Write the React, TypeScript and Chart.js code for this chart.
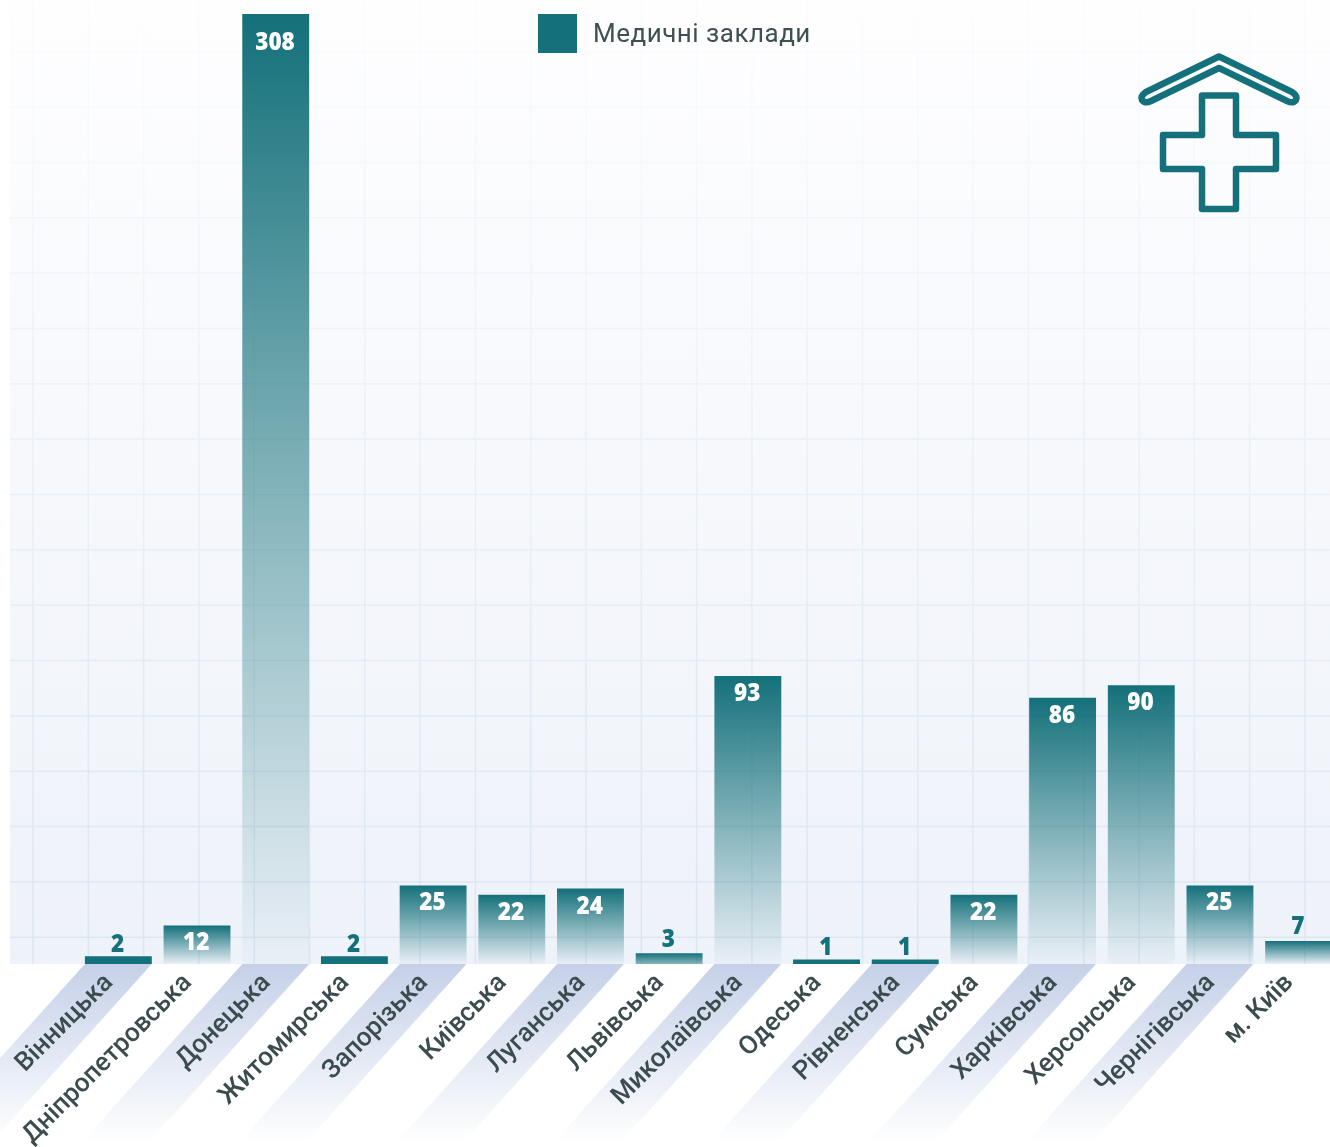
import React, { useEffect, useRef } from "react";
import { Chart, registerables } from "chart.js";

Chart.register(...registerables);

const categories = ["Вінницька","Дніпропетровська","Донецька","Житомирська","Запорізька","Київська","Луганська","Львівська","Миколаївська","Одеська","Рівненська","Сумська","Харківська","Херсонська","Чернігівська","м. Київ"];
const facilities = [2,12,308,2,25,22,24,3,93,1,1,22,86,90,25,7];
const seriesName = "Медичні заклади";

const TEAL = "#14707a";
const TEXT = "#3c4c4e";
const bandedLabels = categories.map((_, i) => i % 2 === 0);

const backdrop = {
  id: "backdrop",
  beforeDraw(chart: any) {
    const { ctx, width, scales } = chart;
    const bottom = scales.y.bottom;
    ctx.save();
    const bg = ctx.createLinearGradient(0, 0, 0, bottom);
    bg.addColorStop(0, "#fefeff");
    bg.addColorStop(1, "#eef2f9");
    ctx.fillStyle = bg;
    ctx.fillRect(10, 0, width - 10, bottom);
    const line = ctx.createLinearGradient(0, 0, 0, bottom);
    line.addColorStop(0, "rgba(205,222,238,0.05)");
    line.addColorStop(1, "rgba(205,222,238,0.6)");
    ctx.strokeStyle = line;
    ctx.lineWidth = 1.5;
    ctx.beginPath();
    for (let x = 33; x < width; x += 55.3) { ctx.moveTo(x, 0); ctx.lineTo(x, bottom); }
    for (let y = 937.3; y > 0; y -= 55.35) { ctx.moveTo(10, y); ctx.lineTo(width, y); }
    ctx.stroke();
    const halfBar = chart.getDatasetMeta(0).data[0].width / 2;
    const slope = 1.11;
    const end = 1147;
    const band = ctx.createLinearGradient(0, bottom, 0, 1142);
    band.addColorStop(0, "#c5d0e8");
    band.addColorStop(1, "rgba(197,208,232,0)");
    ctx.fillStyle = band;
    bandedLabels.forEach((on, i) => {
      if (!on) return;
      const c = scales.x.getPixelForTick(i);
      const dx = (end - bottom) / slope;
      ctx.beginPath();
      ctx.moveTo(c - halfBar, bottom);
      ctx.lineTo(c + halfBar, bottom);
      ctx.lineTo(c + halfBar - dx, end);
      ctx.lineTo(c - halfBar - dx, end);
      ctx.closePath();
      ctx.fill();
    });
    ctx.restore();
  },
};

const overlay = {
  id: "overlay",
  afterDatasetsDraw(chart: any) {
    const { ctx } = chart;
    const bars = chart.getDatasetMeta(0).data;
    ctx.save();
    ctx.textAlign = "center";
    ctx.textBaseline = "middle";
    ctx.font = "800 24.5px 'Open Sans'";
    bars.forEach((bar: any, i: number) => {
      const v = facilities[i];
      const inside = v > 10;
      ctx.fillStyle = inside ? "#ffffff" : TEAL;
      const y = inside ? Math.max(bar.y + 18, 43.5) : bar.y - (v < 3 ? 11 : 13.5);
      ctx.save();
      ctx.translate(bar.x - 0.7, y);
      ctx.scale(0.92, 1);
      ctx.fillText(String(v), 0, 0);
      ctx.restore();
    });
    ctx.strokeStyle = TEAL;
    ctx.lineWidth = 6.5;
    ctx.lineJoin = "round";
    ctx.stroke(new Path2D("M1219 56.5 L1146 92 Q1140 96 1142 100 Q1145 104 1151 101 L1219 68 L1287 101 Q1293 104 1296 100 Q1298 96 1292 92 Z"));
    ctx.stroke(new Path2D("M1202 95.5 H1236 V135 H1276 V169 H1236 V209 H1202 V169 H1163 V135 H1202 Z"));
    ctx.restore();
  },
};

export default function App() {
  const ref = useRef<HTMLCanvasElement>(null);
  useEffect(() => {
    const chart = new Chart(ref.current as HTMLCanvasElement, {
      type: "bar",
      data: {
        labels: categories,
        datasets: [{
          label: seriesName,
          data: facilities,
          base: -0.5,
          barPercentage: 0.85,
          categoryPercentage: 1,
          borderWidth: 0,
          backgroundColor: (c: any) => {
            const { chart: ch, parsed, type } = c;
            if (type !== "data" || !ch.scales.y) return TEAL;
            if (parsed.y < 3) return TEAL;
            const top = ch.scales.y.getPixelForValue(parsed.y);
            const g = ch.ctx.createLinearGradient(0, top, 0, Math.max(ch.scales.y.bottom, top + 20));
            g.addColorStop(0, "rgba(20,112,122,1)");
            g.addColorStop(1, "rgba(20,112,122,0.02)");
            return g;
          },
        } as any],
      },
      options: {
        responsive: false,
        animation: false,
        layout: { padding: { left: 79, right: 13, top: 14, bottom: 0 } },
        plugins: {
          tooltip: { enabled: false },
          legend: {
            position: "top",
            align: "start",
            onClick: () => {},
            labels: {
              boxWidth: 42,
              boxHeight: 39,
              padding: 0,
              color: "#3f4f52",
              font: { family: "Roboto", size: 26 },
              generateLabels: (ch: any) => {
                const swatch = ch.ctx.createLinearGradient(538, 0, 580, 0);
                swatch.addColorStop(0, TEAL);
                swatch.addColorStop(39 / 42, TEAL);
                swatch.addColorStop(39 / 42, "rgba(20,112,122,0)");
                return [{ text: seriesName, fillStyle: swatch, strokeStyle: "rgba(0,0,0,0)", fontColor: "#3f4f52", lineWidth: 0, hidden: false, datasetIndex: 0 } as any];
              },
            },
          },
        },
        scales: {
          x: {
            grid: { display: false },
            border: { display: false },
            afterFit: (s: any) => { s.height = 183; s.paddingLeft = 0; s.paddingRight = 0; },
            ticks: {
              autoSkip: false,
              minRotation: 45,
              maxRotation: 45,
              color: TEXT,
              font: { family: "Roboto", size: 26, weight: "500" },
              padding: -4,
              labelOffset: -9,
            },
          },
          y: { display: false, min: -0.5, max: 308 },
        },
      },
      plugins: [backdrop, overlay, {
        id: "flatLegend",
        beforeLayout(ch: any) {
          const l = ch.legend;
          if (l && !l.__flat) {
            const fit = l.fit;
            l.fit = function () { fit.call(this); this.height = 0; };
            const draw = l.draw;
            l.draw = function (...args: any[]) {
              const c = ch.ctx;
              const fillText = c.fillText;
              c.letterSpacing = "0.5px";
              c.fillText = (t: string, x: number, y: number) => fillText.call(c, t, x, y + 1.5);
              draw.apply(this, args);
              delete c.fillText;
              c.letterSpacing = "0px";
            };
            l.__flat = true;
          }
        },
        afterLayout(ch: any) {
          const l = ch.legend;
          if (l) { l.height = 39; l.bottom = l.top + 39; l.left = 538; l.right = 900; l.width = 362; }
        },
      }],
    } as any);
    return () => chart.destroy();
  }, []);
  return (
    <div style={{ position: "fixed", inset: 0, overflow: "hidden", background: "#fff" }}>
      <canvas ref={ref} width={1351} height={1147} style={{ display: "block" }} />
    </div>
  );
}
